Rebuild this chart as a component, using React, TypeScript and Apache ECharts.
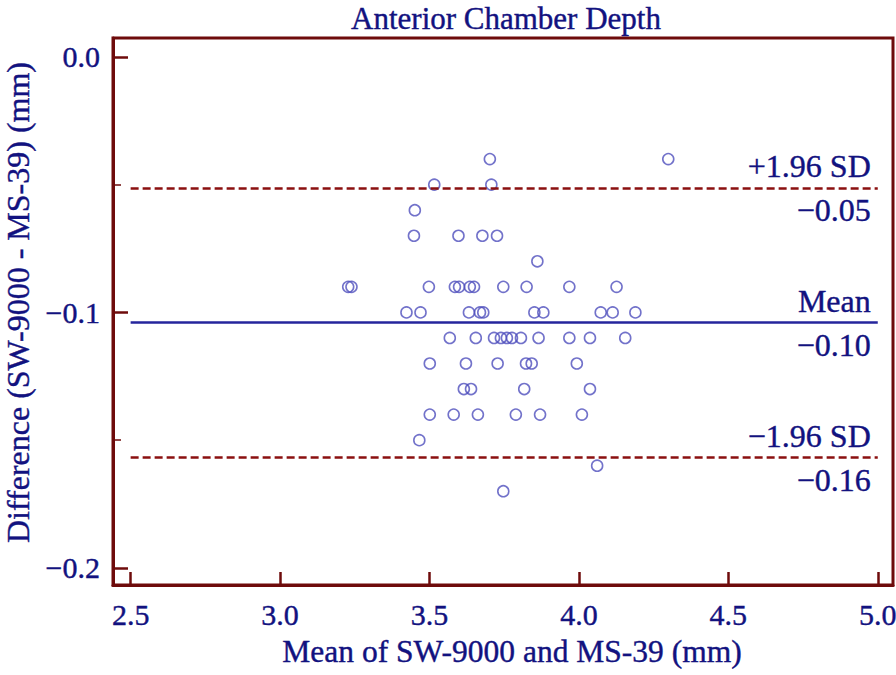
import React, { useEffect, useRef } from "react";
import * as echarts from "echarts";

// Mean of SW-9000 and MS-39 (mm)
const meanOfMethods = [
  3.702, 4.299,
  3.516, 3.707,
  3.451,
  3.448, 3.597, 3.677, 3.726,
  3.861,
  3.228, 3.239, 3.498, 3.585, 3.599, 3.635, 3.649, 3.747, 3.825, 3.968, 4.126,
  3.423, 3.47, 3.632, 3.669, 3.68, 3.851, 3.881, 4.073, 4.113, 4.189,
  3.568, 3.655, 3.716, 3.739, 3.759, 3.776, 3.806, 3.865, 3.968, 4.037, 4.155,
  3.501, 3.622, 3.728, 3.823, 3.842, 3.993,
  3.615, 3.639, 3.817, 4.037,
  3.501, 3.581, 3.662, 3.789, 3.87, 4.01,
  3.466,
  4.061,
  3.747,
];
// Difference (SW-9000 - MS-39) (mm)
const differences = [
  -0.04, -0.04,
  -0.05, -0.05,
  -0.06,
  -0.07, -0.07, -0.07, -0.07,
  -0.08,
  -0.09, -0.09, -0.09, -0.09, -0.09, -0.09, -0.09, -0.09, -0.09, -0.09, -0.09,
  -0.1, -0.1, -0.1, -0.1, -0.1, -0.1, -0.1, -0.1, -0.1, -0.1,
  -0.11, -0.11, -0.11, -0.11, -0.11, -0.11, -0.11, -0.11, -0.11, -0.11, -0.11,
  -0.12, -0.12, -0.12, -0.12, -0.12, -0.12,
  -0.13, -0.13, -0.13, -0.13,
  -0.14, -0.14, -0.14, -0.14, -0.14, -0.14,
  -0.15,
  -0.16,
  -0.17,
];

const xTicks = [2.5, 3.0, 3.5, 4.0, 4.5, 5.0];
const yTicks = [-0.2, -0.1, 0.0];
const yMinorTicks = [-0.15, -0.05];
const xRange = [2.441, 5.051];
const yRange = [-0.2067, 0.0074];
const lineSpan = [2.5, 5.0];

const refNames = ["+1.96 SD", "Mean", "\u22121.96 SD"];
const refValueLabels = ["\u22120.05", "\u22120.10", "\u22120.16"];
const refLevels = [-0.0514, -0.104, -0.1568];

const FONT = "'Liberation Serif', 'Times New Roman', serif";
const TEXT = "#12127f";
const FRAME = "#6e0b0b";
const SD_COLOR = "#8b1010";
const MEAN_COLOR = "#25259c";
const POINT = "#4f4fbd";
const BOLDEN = { textBorderColor: TEXT, textBorderWidth: 0.4 };

const fmt = (v: number) => {
  const s = v.toFixed(1);
  return v < -1e-9 ? "\u2212" + s.slice(1) : s.replace("-", "");
};

export default function App() {
  const ref = useRef<HTMLDivElement>(null);
  useEffect(() => {
    if (!ref.current) return;
    const chart = echarts.init(ref.current, null, { renderer: "svg" });

    const markData: any[] = [];
    refLevels.forEach((lvl, i) => {
      const isMean = i === 1;
      const ls = {
        color: isMean ? MEAN_COLOR : SD_COLOR,
        width: 2.5,
        type: isMean ? "solid" : [8, 4],
      };
      markData.push([
        {
          coord: [lineSpan[0], lvl],
          lineStyle: ls,
          label: {
            show: true,
            position: "insideEndTop",
            formatter: refNames[i],
            distance: [7, 6],
          },
        },
        { coord: [lineSpan[1], lvl] },
      ]);
      markData.push([
        {
          coord: [lineSpan[0], lvl],
          lineStyle: { color: "rgba(0,0,0,0)", width: 1, type: "solid" },
          label: {
            show: true,
            position: "insideEndBottom",
            formatter: refValueLabels[i],
            distance: [7, 6],
          },
        },
        { coord: [lineSpan[1], lvl] },
      ]);
    });

    chart.setOption({
      animation: false,
      backgroundColor: "#ffffff",
      textStyle: { fontFamily: FONT, color: TEXT },
      title: {
        text: "Anterior Chamber Depth",
        left: 506,
        textAlign: "center",
        top: 6,
        padding: 0,
        textStyle: {
          fontFamily: FONT,
          fontSize: 31,
          lineHeight: 24,
          fontWeight: "normal",
          color: TEXT,
          ...BOLDEN,
        },
      },
      grid: {
        left: 113,
        top: 38,
        right: 3,
        bottom: 90,
        show: true,
        borderColor: FRAME,
        borderWidth: 3,
        containLabel: false,
        outerBoundsMode: "none",
      },
      xAxis: {
        type: "value",
        position: "bottom",
        min: xRange[0],
        max: xRange[1],
        name: "Mean of SW-9000 and MS-39 (mm)",
        nameLocation: "middle",
        nameGap: 50,
        nameTextStyle: {
          fontFamily: FONT,
          fontSize: 31.5,
          color: TEXT,
          padding: [0, 0, 0, 18],
          ...BOLDEN,
        },
        axisLine: { show: true, onZero: false, lineStyle: { color: FRAME, width: 3 } },
        axisTick: {
          show: true,
          inside: true,
          length: 13,
          customValues: xTicks,
          lineStyle: { color: FRAME, width: 2.5 },
        },
        axisLabel: {
          customValues: xTicks,
          formatter: (v: number) => fmt(v),
          fontFamily: FONT,
          fontSize: 30,
          color: TEXT,
          margin: 14,
          ...BOLDEN,
        },
        splitLine: { show: false },
      },
      yAxis: [
        {
          type: "value",
          min: yRange[0],
          max: yRange[1],
          name: "Difference (SW-9000 - MS-39) (mm)",
          nameLocation: "middle",
          nameGap: 81,
          nameTextStyle: {
            fontFamily: FONT,
            fontSize: 32,
            lineHeight: 24,
            color: TEXT,
            padding: [0, 0, 0, 18],
            ...BOLDEN,
          },
          axisLine: { show: true, lineStyle: { color: FRAME, width: 3 } },
          axisTick: {
            show: true,
            inside: true,
            length: 15,
            customValues: yTicks,
            lineStyle: { color: FRAME, width: 2.5 },
          },
          axisLabel: {
            customValues: yTicks,
            formatter: (v: number) => fmt(v),
            fontFamily: FONT,
            fontSize: 30,
            color: TEXT,
            margin: 13,
            ...BOLDEN,
          },
          splitLine: { show: false },
        },
        {
          type: "value",
          min: yRange[0],
          max: yRange[1],
          position: "left",
          offset: 0,
          axisLine: { show: false },
          axisTick: {
            show: true,
            inside: true,
            length: 8,
            customValues: yMinorTicks,
            lineStyle: { color: FRAME, width: 1.5 },
          },
          axisLabel: { show: false },
          splitLine: { show: false },
        },
      ],
      series: [
        {
          type: "scatter",
          data: meanOfMethods.map((x, i) => [x, differences[i]]),
          symbol: "circle",
          symbolSize: 11,
          itemStyle: { color: "rgba(0,0,0,0)", borderColor: POINT, borderWidth: 1.6 },
          z: 3,
          markLine: {
            silent: true,
            symbol: ["none", "none"],
            animation: false,
            label: { fontFamily: FONT, fontSize: 32, color: TEXT, ...BOLDEN },
            data: markData,
          },
        },
      ],
    });
    return () => chart.dispose();
  }, []);
  return (
    <div
      ref={ref}
      style={{ position: "fixed", left: 0, top: 0, width: 896, height: 675, background: "#fff" }}
    />
  );
}
